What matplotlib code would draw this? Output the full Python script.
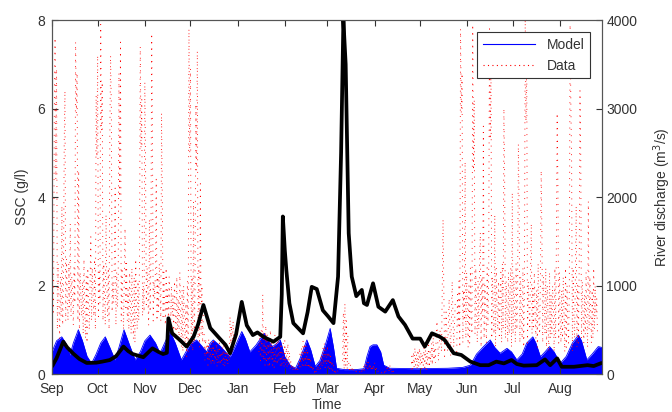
import numpy as np
import matplotlib.pyplot as plt
from matplotlib.lines import Line2D

plt.rcParams['font.family'] = ['Liberation Sans', 'DejaVu Sans']

# month ticks, days counted from 1 Sep
month_days = [0, 30, 61, 91, 122, 153, 181, 212, 242, 273, 303, 334]
month_labels = ['Sep', 'Oct', 'Nov', 'Dec', 'Jan', 'Feb', 'Mar', 'Apr', 'May', 'Jun', 'Jul', 'Aug']

# river discharge (m3/s)
q_day = [0.5, 3, 7.4, 10, 14, 18, 22.8, 29, 33, 38, 42, 47, 50, 53, 60, 66, 70, 73, 75.5, 76.5,
         79, 84, 88.5, 93, 96, 99.5, 104, 110, 114, 117, 121, 124.7, 128, 132, 135, 139, 145.5,
         150, 151, 151.7, 153, 154, 156, 158.6, 165, 168, 170.7, 174, 178, 181.5, 185, 188, 190,
         191.5, 193, 195, 197, 200, 203.6, 205, 207, 211, 214.5, 219, 224, 227.7, 232, 237, 242,
         245, 249.7, 255, 258, 264, 269, 275, 281.5, 287, 292, 297, 302, 305.5, 310, 318.6, 324,
         327.4, 332, 335, 343, 352, 356, 360.5]
q_val = [100, 180, 365, 300, 230, 170, 125, 128, 140, 158, 200, 310, 260, 226, 190, 290, 250, 226, 240, 630,
         460, 385, 310, 420, 560, 780, 520, 405, 330, 235, 450, 815, 550, 440, 470, 420, 365,
         420, 900, 1780, 1400, 1175, 800, 575, 460, 700, 985, 960, 720, 650, 575, 1100, 2500,
         4000, 3500, 1590, 1100, 880, 950, 800, 780, 1025, 760, 705, 835, 650, 555, 400, 400,
         310, 460, 420, 385, 235, 215, 140, 100, 100, 140, 120, 158, 113, 95, 100, 165,
         100, 177, 82, 82, 100, 90, 120]

# model SSC (g/l), upper envelope of the tidal signal
m_day = [0, 3, 6.4, 9, 11.8, 14, 17.3, 20, 23, 26, 29, 32, 35, 38, 41.4, 44, 47.3, 51, 54.6, 58,
         61, 64.4, 68, 71, 74, 77.6, 81, 85, 88, 91, 95, 98, 101.7, 104, 106, 110, 114, 117, 120,
         124.7, 127, 130, 134, 137, 139.5, 142, 145, 148, 150, 153, 156.5, 160, 163, 167.5, 170,
         173, 176, 180, 182.8, 185, 187, 192, 200, 205, 207, 209, 211, 213.5, 216, 218, 222, 240,
         260, 270, 275, 279, 283.6, 288, 291, 294.5, 299, 302, 305.5, 309, 312, 316, 318, 321,
         324, 327, 330, 334, 338, 342, 346, 348, 351.5, 355, 359, 361.5]
m_val = [0.5, 0.75, 0.84, 0.7, 0.43, 0.7, 1.0, 0.75, 0.4, 0.24, 0.45, 0.7, 0.84, 0.6, 0.32, 0.6, 1.0, 0.65, 0.32, 0.5,
         0.75, 0.88, 0.7, 0.47, 0.7, 0.96, 0.7, 0.32, 0.5, 0.7, 0.77, 0.65, 0.5, 0.7, 0.77, 0.65, 0.5, 0.39, 0.6,
         0.96, 0.8, 0.5, 0.65, 0.8, 0.92, 0.75, 0.62, 0.7, 0.77, 0.39, 0.2, 0.13, 0.35, 0.77, 0.55,
         0.17, 0.3, 0.7, 1.03, 0.6, 0.13, 0.1, 0.1, 0.12, 0.4, 0.62, 0.66, 0.66, 0.5, 0.2, 0.13, 0.12,
         0.13, 0.15, 0.2, 0.45, 0.62, 0.77, 0.6, 0.47, 0.58, 0.5, 0.32, 0.45, 0.7, 0.84, 0.7, 0.39,
         0.5, 0.62, 0.5, 0.24, 0.4, 0.7, 0.88, 0.75, 0.32, 0.45, 0.62, 0.6]

# measured SSC (g/l), one list per record
data_sepdec = [0.9, 2.3, 1.4, 5.8, 7.6, 4.4, 6.9, 1.0, 2.5, 1.7, 0.8, 2.2, 1.3, 3.8, 1.1, 2.0, 5.2, 6.4, 1.2, 2.6,
               1.8, 1.2, 2.5, 1.5, 3.4, 1.3, 2.2, 1.9, 1.1, 2.4, 1.6, 7.5, 5.9, 6.8, 1.2, 4.6, 1.0, 2.3, 1.7, 1.3,
               2.1, 0.9, 2.6, 1.4, 0.8, 2.2, 0.7, 2.4, 1.6, 1.0, 2.1, 3.1, 1.2, 2.4, 1.8, 1.3, 2.6, 1.0, 6.3, 4.9,
               7.2, 1.3, 2.3, 1.6, 7.9, 5.5, 6.6, 1.2, 2.5, 1.8, 1.1, 3.6, 2.0, 1.3, 2.4, 1.0, 5.4, 7.2, 6.0, 1.4,
               2.1, 1.6, 2.6, 4.2, 1.1, 2.3, 1.5, 2.0, 6.8, 4.0, 7.5, 1.2, 2.4, 1.7, 1.0, 2.2, 3.3, 1.5, 2.5, 1.2,
               1.9, 1.0, 2.3, 1.6, 0.9, 2.4, 1.3, 0.8, 2.2, 0.7, 2.6, 1.5, 1.0, 2.1, 1.2, 2.5, 7.4, 5.1, 6.2, 1.3,
               2.0, 1.4, 6.6, 4.7, 1.5, 2.4, 1.8, 1.1, 3.5, 1.4, 2.5, 7.7, 5.6, 1.2, 2.1, 1.7, 2.4, 4.4, 1.2, 2.2,
               1.4, 2.5, 1.9, 1.2, 5.9, 3.9, 1.3, 2.3, 1.6, 1.1, 2.4, 1.4, 1.9, 1.2, 2.2, 1.6, 1.0, 2.0, 1.3, 1.8,
               0.9, 2.1, 1.5, 0.8, 2.2, 1.0, 1.7, 0.7, 2.3, 1.4, 0.6, 1.9, 0.5, 2.0, 1.2, 0.7, 1.6, 0.4, 2.1, 0.5,
               7.8, 5.0, 6.9, 0.6, 2.2, 0.5, 3.9, 0.7, 1.9, 6.1, 4.6, 7.3, 0.8, 2.4, 0.6, 4.3, 0.9, 2.0, 0.7, 1.5]
data_dec = [0.9, 0.3, 0.8, 0.4, 0.7, 0.2, 0.8, 0.3, 0.6, 0.2, 0.7, 0.3, 0.8, 0.2, 0.6, 0.3, 0.7, 0.15, 0.6, 0.25,
            0.7, 0.2, 0.5, 0.3, 0.6, 0.2, 0.7, 0.15, 0.5, 0.25, 0.6, 0.2, 0.5, 0.3, 1.3, 0.6, 1.1, 0.5, 1.2, 0.6]
data_jan = [0.5, 0.9, 0.3, 1.0, 0.4, 1.8, 0.3, 0.8, 0.2, 1.1, 0.3, 0.9, 0.2, 0.7, 0.15, 1.0, 0.3, 0.8, 0.2, 0.6,
            0.15, 0.9, 0.25, 0.7, 0.2, 0.8, 0.3, 0.6, 0.2, 0.7, 0.15, 0.5, 0.3]
data_feb = [0.7, 0.15, 0.75, 0.2, 0.6, 0.15, 0.7, 0.2, 0.5,
            0.12, 0.3, 0.1, 0.2, 0.06, 0.15, 0.05, 0.12, 0.06, 0.18,
            0.1, 0.3, 0.12, 0.45, 0.15, 0.6, 0.2, 0.75, 0.18, 0.7, 0.2, 0.65, 0.15, 0.55, 0.12, 0.4, 0.1,
            0.3, 0.08, 0.2, 0.05, 0.15, 0.04, 0.12, 0.05, 0.15, 0.06, 0.2, 0.08,
            0.3, 0.1, 0.45, 0.15, 0.6, 0.2, 0.7, 0.15, 0.55, 0.2, 0.65, 0.15, 0.5, 0.12, 0.4, 0.1, 0.3,
            0.08, 0.2, 0.05, 0.12, 0.04, 0.1, 0.05, 0.08, 0.04]
data_mar = [0.3, 1.4, 0.1, 1.6, 0.2, 1.2, 0.1, 0.9]
data_apr = [0.25, 0.1, 0.22, 0.08, 0.18, 0.06, 0.12, 0.05, 0.08, 0.04, 0.06, 0.03,
            0.05, 0.03, 0.06, 0.04, 0.1, 0.05, 0.15, 0.06, 0.2, 0.08,
            0.25, 0.1, 0.3, 0.12, 0.28, 0.1, 0.25, 0.08, 0.2, 0.06,
            0.22, 0.08, 0.26, 0.1, 0.18, 0.06, 0.1, 0.04, 0.06, 0.03,
            0.04, 0.02, 0.05, 0.03, 0.08, 0.04, 0.12, 0.05, 0.15, 0.06,
            0.18, 0.08, 0.2, 0.07, 0.15, 0.05, 0.12, 0.04, 0.08, 0.03]
data_may = [0.1, 0.4, 0.12, 0.5, 0.15, 0.6, 0.2, 0.45, 0.1, 0.55, 0.15, 0.6, 0.2, 0.5, 0.12, 0.45, 0.2, 0.6,
            0.15, 0.55, 0.1, 0.5, 0.2, 0.65, 0.15, 0.5, 0.25, 0.7, 0.2, 0.9, 0.3, 0.6, 0.25]
data_late_may = [0.4, 1.2, 0.3, 1.0, 0.5, 3.5, 0.4, 1.4, 0.5, 1.7, 0.4, 2.1, 0.6, 1.6]
data_summer = [0.5, 1.8, 1.1, 2.1, 0.6, 7.8, 5.9, 6.8, 0.7, 1.9, 1.2, 4.8, 0.8, 2.3, 1.4, 0.6, 2.0, 0.7, 2.4, 1.3,
               0.9, 7.9, 4.6, 6.2, 0.9, 2.4, 1.5, 0.7, 2.1, 1.0, 2.5, 3.2, 0.6, 2.2, 1.3, 5.6, 0.8, 2.0, 1.6, 0.7,
               2.4, 1.1, 2.3, 7.8, 5.3, 6.9, 0.8, 2.2, 1.4, 0.9, 3.6, 0.6, 2.4, 1.5, 1.0, 2.1, 0.8, 1.8, 2.3, 0.7,
               2.5, 1.0, 6.0, 4.4, 0.8, 2.1, 1.4, 0.7, 2.3, 0.9, 1.9, 2.4, 0.6, 4.1, 0.9, 2.2, 1.6, 0.7, 2.5, 1.0,
               1.8, 5.2, 3.8, 0.7, 2.2, 1.3, 0.8, 2.4, 0.6, 1.9, 8.0, 5.7, 7.1, 0.7, 2.1, 1.5, 1.0, 2.3, 3.4, 0.9,
               2.0, 1.0, 2.3, 1.4, 0.8, 1.9, 0.6, 2.5, 1.2, 0.9, 2.1, 4.6, 3.1, 0.7, 2.2, 1.6, 0.9, 2.4, 0.6, 2.0,
               1.3, 0.5, 2.3, 0.8, 1.8, 0.9, 2.0, 1.5, 0.5, 2.4, 0.8, 3.0, 5.9, 4.2, 0.7, 2.3, 1.2, 0.7, 1.9, 0.8,
               2.2, 1.4, 0.5, 2.4, 0.6, 2.0, 1.1, 0.7, 1.9, 7.9, 6.1, 4.8, 0.5, 2.4, 1.3, 0.8, 2.2, 3.8, 0.6, 2.0,
               0.7, 2.5, 6.4, 4.9, 0.8, 2.1, 1.4, 0.7, 1.8, 0.9, 2.3, 1.2, 0.6, 3.9, 1.0, 2.2, 1.5, 0.7, 1.9, 0.8,
               2.4, 1.0, 2.0, 1.3, 1.7, 0.9]
# (start day, sample step in days, values)
records = [(0, 0.5, data_sepdec), (100, 0.5, data_dec), (136, 0.5, data_jan), (152, 0.5, data_feb),
           (191, 0.5, data_mar), (195, 0.5, data_apr), (236, 0.5, data_may), (252, 1.0, data_late_may),
           (266, 0.5, data_summer)]

fig = plt.figure(figsize=(6.72, 4.12), dpi=100)
ax = fig.add_axes([0.0774, 0.0922, 0.8185, 0.8592])
ax2 = ax.twinx()

ax.fill_between(m_day, 0, m_val, color='#0000ff', lw=0, zorder=1)
ax.plot(m_day, m_val, color='#0000ff', lw=0.6, zorder=1)
for t0, step, vals in records:
    t = t0 + step * np.arange(len(vals))
    ax.plot(t, vals, color='red', lw=0.65, ls=(0, (1, 6)), zorder=2)

ax2.plot(q_day, q_val, color='black', lw=2.7)

txt = '#333333'
ax.set_xlim(0, 361.5)
ax.set_ylim(0, 8)
ax2.set_ylim(0, 4000)
ax.set_xticks(month_days)
ax.set_xticklabels(month_labels)
ax.set_yticks([0, 2, 4, 6, 8])
ax2.set_yticks([0, 1000, 2000, 3000, 4000])
ax.tick_params(axis='x', direction='in', top=True, length=4, pad=6, labelsize=10, colors=txt)
ax.tick_params(axis='y', direction='in', length=4, pad=5, labelsize=10, colors=txt)
ax2.tick_params(axis='y', direction='in', length=4, pad=3, labelsize=10, colors=txt)
for a in (ax, ax2):
    for s in a.spines.values():
        s.set_color('#555555')
        s.set_linewidth(0.8)

ax.set_xlabel('Time', fontsize=10, color=txt, labelpad=1)
ax.set_ylabel('SSC (g/l)', fontsize=10, color=txt, labelpad=6)
ax2.set_ylabel('River discharge (m$^3$/s)', fontsize=10, color=txt, labelpad=10)

handles = [Line2D([], [], color='#0000ff', lw=0.8),
           Line2D([], [], color='red', lw=0.8, ls=(0, (1, 3)))]
leg = ax2.legend(handles, ['Model', 'Data'], loc='upper right', bbox_to_anchor=(0.978, 0.966),
                 borderaxespad=0, fancybox=False, framealpha=1, edgecolor='#333333',
                 fontsize=10, handlelength=3.8, labelcolor=txt)
leg.get_frame().set_linewidth(0.8)

fig.savefig('out.png', dpi=100)
